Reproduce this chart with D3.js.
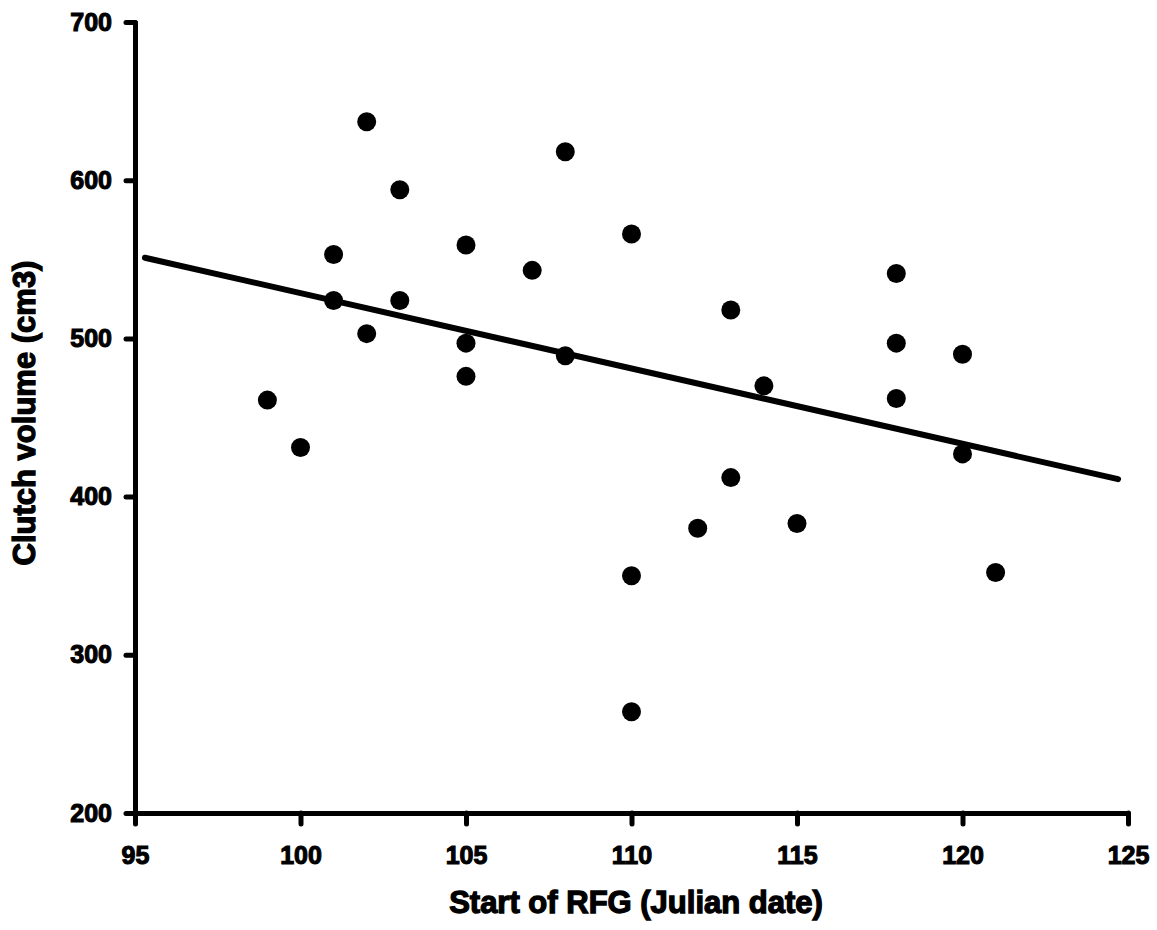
<!DOCTYPE html>
<html>
<head>
<meta charset="utf-8">
<script src="https://cdn.jsdelivr.net/npm/d3@7"></script>
<style>
  body { margin: 0; background: #fff; }
  text { font-family: "Liberation Sans", Arial, sans-serif; font-weight: bold; fill: #000; }
</style>
</head>
<body>
<script>
// start of RFG (julian day) and clutch volume (cm3)
var startDay = [99,100,101,101,102,102,103,103,105,105,105,107,108,108,110,110,110,112,113,113,114,115,118,118,118,120,120,121];
var clutchVol = [461,431,553,524,637,503,594,524,559,497,476,543,618,489,566,350,264,380,518,412,470,383,541,497,462,490,427,352];

// fitted line endpoints
var fitX = [95.3, 124.7];
var fitY = [551, 411];

var xTicks = [95,100,105,110,115,120,125];
var yTicks = [200,300,400,500,600,700];

var width = 1157, height = 930;
var margin = {left:135, right:29, top:22, bottom:117};
var w = width - margin.left - margin.right;
var h = height - margin.top - margin.bottom;

var x = d3.scaleLinear().domain([95,125]).range([0,w]);
var y = d3.scaleLinear().domain([200,700]).range([h,0]);

var svg = d3.select("body").append("svg").attr("width",width).attr("height",height);
var g = svg.append("g").attr("transform","translate("+margin.left+","+margin.top+")");

// axes
var yAxis = d3.axisLeft(y).tickValues(yTicks).tickSizeInner(9).tickSizeOuter(0).tickPadding(14);
var xAxis = d3.axisBottom(x).tickValues(xTicks).tickSizeInner(11).tickSizeOuter(0).tickPadding(22);

var gy = g.append("g").call(yAxis);
var gx = g.append("g").attr("transform","translate(0,"+h+")").call(xAxis);

[gx, gy].forEach(function(a){
  a.select(".domain").attr("stroke","#000").attr("stroke-width",5).attr("stroke-linecap","round");
  a.selectAll(".tick line").attr("stroke","#000").attr("stroke-width",5).attr("stroke-linecap","round");
  a.selectAll(".tick text").style("font-size","25px").attr("stroke","#000").attr("stroke-width",1.1);
});

// regression line
var line = d3.line().x(function(d){ return x(d[0]); }).y(function(d){ return y(d[1]); });
g.append("path")
  .attr("d", line(d3.zip(fitX, fitY)))
  .attr("fill","none").attr("stroke","#000").attr("stroke-width",6).attr("stroke-linecap","round");

// points
g.selectAll("circle").data(d3.zip(startDay, clutchVol)).enter().append("circle")
  .attr("cx", function(d){ return x(d[0]); })
  .attr("cy", function(d){ return y(d[1]); })
  .attr("r", 9.5)
  .attr("fill","#000");

// axis titles
svg.append("text")
  .attr("x", 636).attr("y", 913)
  .attr("text-anchor","middle")
  .style("font-size","31px").attr("stroke","#000").attr("stroke-width",1.3)
  .text("Start of RFG (Julian date)");

svg.append("text")
  .attr("transform","translate(35,413) rotate(-90)")
  .attr("text-anchor","middle")
  .style("font-size","31px").attr("stroke","#000").attr("stroke-width",1.3)
  .text("Clutch volume (cm3)");
</script>
</body>
</html>
